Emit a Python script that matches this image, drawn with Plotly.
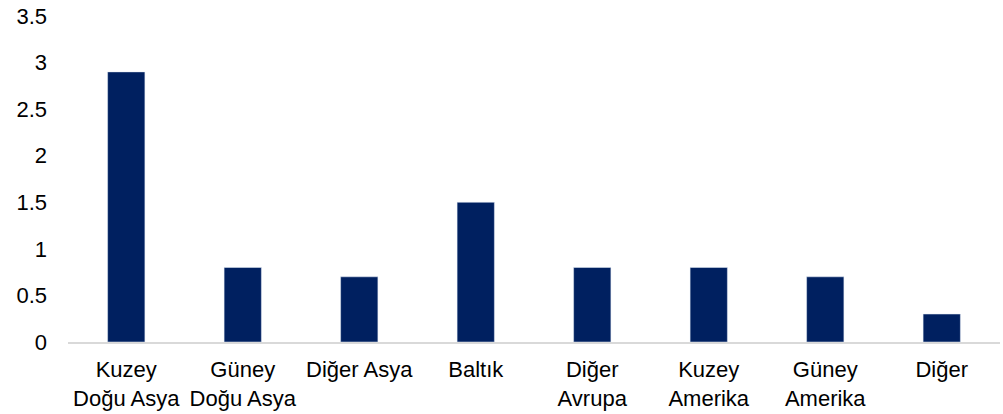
import plotly.graph_objects as go

categories = ["Kuzey<br>Doğu Asya", "Güney<br>Doğu Asya", "Diğer Asya", "Baltık",
              "Diğer<br>Avrupa", "Kuzey<br>Amerika", "Güney<br>Amerika", "Diğer"]
values = [2.9, 0.8, 0.7, 1.5, 0.8, 0.8, 0.7, 0.3]
y_ticks = [0, 0.5, 1, 1.5, 2, 2.5, 3, 3.5]
y_tick_labels = ["0", "0.5", "1", "1.5", "2", "2.5", "3", "3.5"]

fig = go.Figure()
fig.add_trace(go.Bar(x=categories, y=values, marker_color="#002060", width=0.32))

fig.update_layout(
    width=1003, height=414,
    margin=dict(l=68, r=3, t=16, b=72),
    plot_bgcolor="white", paper_bgcolor="white",
    font=dict(family="Liberation Sans, Arial", size=22, color="black"),
    showlegend=False,
)
fig.update_xaxes(showline=True, linecolor="#d9d9d9", linewidth=2, ticks="",
                 showgrid=False, ticklabelstandoff=7, automargin=False)
fig.update_yaxes(range=[0, 3.5], tickvals=y_ticks, ticktext=y_tick_labels,
                 showgrid=False, zeroline=False, showline=False,
                 ticklabelstandoff=20, ticklabeloverflow="allow", automargin=False)

# drop the default body margin so the figure fills the window exactly
fig.write_html("out.html", config={"displayModeBar": False},
               post_script="document.body.style.margin='0';")
